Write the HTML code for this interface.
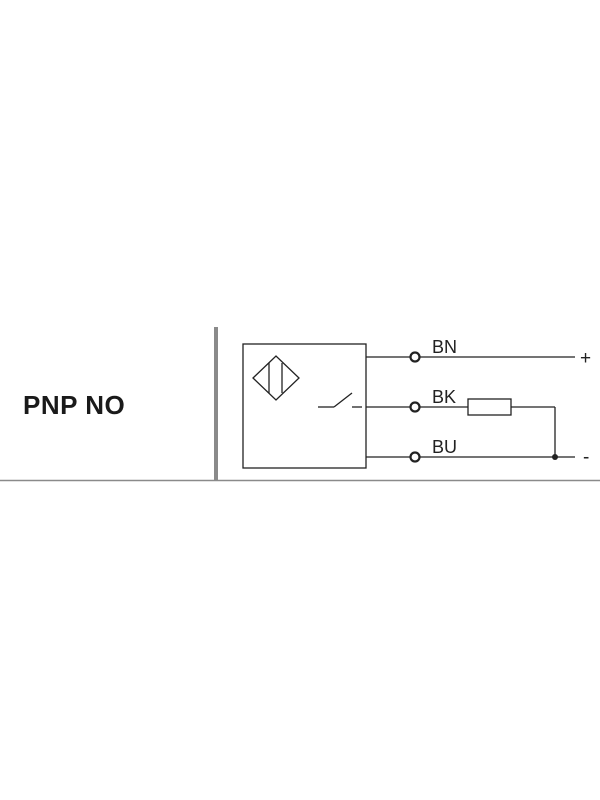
<!DOCTYPE html>
<html><head><meta charset="utf-8"><style>
html,body{margin:0;padding:0;background:#fff;width:600px;height:800px;overflow:hidden}
svg{display:block}
</style></head><body>
<svg width="600" height="800" viewBox="0 0 600 800" xmlns="http://www.w3.org/2000/svg">
<rect x="214" y="327" width="4" height="153" fill="#8a8a8a"/>
<line x1="0" y1="480.5" x2="600" y2="480.5" stroke="#8a8a8a" stroke-width="1.5"/>
<text x="23" y="414" font-family="Liberation Sans, sans-serif" font-weight="bold" font-size="26" letter-spacing="0.5" fill="#1a1a1a">PNP NO</text>
<g stroke="#222" stroke-width="1.3" fill="none">
<rect x="243" y="344" width="123" height="124"/>
<polygon points="253,378 276,356 299,378 276,400"/>
<line x1="269" y1="363" x2="269" y2="393"/>
<line x1="282" y1="363" x2="282" y2="393"/>
<line x1="318" y1="407" x2="334" y2="407"/>
<line x1="334" y1="407" x2="352" y2="393"/>
<line x1="352" y1="407" x2="362" y2="407"/>
<line x1="366" y1="357" x2="411" y2="357"/>
<line x1="419" y1="357" x2="575" y2="357"/>
<line x1="366" y1="407" x2="411" y2="407"/>
<line x1="419" y1="407" x2="468" y2="407"/>
<rect x="468" y="399" width="43" height="16"/>
<line x1="511" y1="407" x2="555" y2="407"/>
<line x1="555" y1="407" x2="555" y2="457"/>
<line x1="366" y1="457" x2="411" y2="457"/>
<line x1="419" y1="457" x2="575" y2="457"/>
<circle cx="415" cy="357" r="4.5" stroke-width="2.2"/>
<circle cx="415" cy="407" r="4.5" stroke-width="2.2"/>
<circle cx="415" cy="457" r="4.5" stroke-width="2.2"/>
</g>
<circle cx="555" cy="457" r="3" fill="#222"/>
<g font-family="Liberation Sans, sans-serif" font-size="18" fill="#222">
<text x="432" y="353">BN</text>
<text x="432" y="403">BK</text>
<text x="432" y="453">BU</text>
<text x="580" y="364" font-size="19">+</text>
<text x="583" y="463" font-size="19">-</text>
</g>
</svg>
</body></html>
